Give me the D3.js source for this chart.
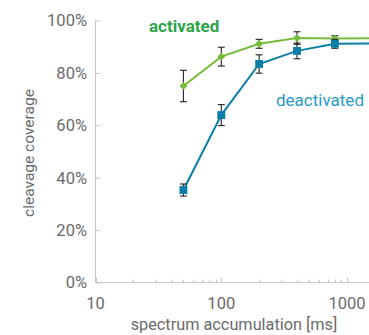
<!DOCTYPE html>
<html>
<head>
<meta charset="utf-8">
<script src="https://cdn.jsdelivr.net/npm/d3@7"></script>
<style>
body { margin: 0; background: #fff; }
text { font-family: Roboto, "Liberation Sans", sans-serif; }
</style>
</head>
<body>
<div id="chart"></div>
<script>
// data
var times = [50, 100, 200, 400, 800, 1600];
var activated = [0.75, 0.862, 0.911, 0.933, 0.931, 0.932];
var activatedErr = [0.06, 0.036, 0.017, 0.024, 0.011, 0];
var deactivated = [0.353, 0.639, 0.834, 0.884, 0.911, 0.912];
var deactivatedErr = [0.023, 0.04, 0.035, 0.03, 0.017, 0];
var shownPoints = 5;
var yTicks = [0, 0.2, 0.4, 0.6, 0.8, 1];
var xTicks = [10, 100, 1000];

var svgWidth = 369;
var svgHeight = 335;

var svg = d3.select("#chart")
    .append("svg")
    .attr("width", svgWidth)
    .attr("height", svgHeight);

var xScale = d3.scaleLog()
    .domain([10, 1500])
    .range([95.5, 369.2]);

var yScale = d3.scaleLinear()
    .domain([0, 1])
    .range([282.5, 20.5]);

var axisColor = "#c8c8c8";
var textColor = "#6b6b6b";

// y axis
var yAxis = svg.append("g")
    .attr("transform", "translate(95.5,0)")
    .call(d3.axisRight(yScale).tickValues(yTicks).tickSize(5).tickFormat(""));
yAxis.select(".domain").attr("stroke", axisColor).attr("d", "M0," + yScale(1) + "V" + yScale(0));
yAxis.selectAll(".tick line").attr("stroke", axisColor);

svg.append("g").selectAll("text")
    .data(yTicks)
    .enter()
    .append("text")
    .attr("x", 87)
    .attr("y", d => yScale(d))
    .attr("dy", "0.36em")
    .attr("text-anchor", "end")
    .attr("font-size", "16.5px")
    .attr("fill", textColor)
    .text(d3.format(".0%"));

// x axis with minor ticks
var minorTicks = xScale.ticks().filter(d => xTicks.indexOf(d) < 0);
var xAxisG = svg.append("g")
    .attr("transform", "translate(0,282.5)");
xAxisG.append("line")
    .attr("x1", 95.5).attr("x2", 369)
    .attr("stroke", axisColor);
xAxisG.selectAll(".minor")
    .data(minorTicks)
    .enter()
    .append("line")
    .attr("x1", d => Math.round(xScale(d)) + 0.5)
    .attr("x2", d => Math.round(xScale(d)) + 0.5)
    .attr("y1", 0).attr("y2", -3)
    .attr("stroke", axisColor);
xAxisG.selectAll(".major")
    .data(xTicks)
    .enter()
    .append("line")
    .attr("x1", d => Math.round(xScale(d)) + 0.5)
    .attr("x2", d => Math.round(xScale(d)) + 0.5)
    .attr("y1", 0).attr("y2", -5)
    .attr("stroke", axisColor);
xAxisG.selectAll("text")
    .data(xTicks)
    .enter()
    .append("text")
    .attr("x", d => xScale(d))
    .attr("y", 26)
    .attr("text-anchor", "middle")
    .attr("font-size", "16.5px")
    .attr("fill", textColor)
    .text(d => d);

// axis titles
svg.append("text")
    .attr("transform", "translate(34,153) rotate(-90)")
    .attr("text-anchor", "middle")
    .attr("font-size", "15.5px")
    .attr("fill", textColor)
    .text("cleavage coverage");

svg.append("text")
    .attr("x", 234)
    .attr("y", 330)
    .attr("text-anchor", "middle")
    .attr("font-size", "16.3px")
    .attr("fill", textColor)
    .text("spectrum accumulation [ms]");

// plot area clip
svg.append("clipPath")
    .attr("id", "plotClip")
    .append("rect")
    .attr("x", 90).attr("y", 0)
    .attr("width", 279).attr("height", 290);

var plot = svg.append("g").attr("clip-path", "url(#plotClip)");

function drawSeries(values, errs, color, marker) {
    var pts = times.map((t, i) => ({t: t, v: values[i], e: errs[i]}));
    var line = d3.line()
        .x(d => xScale(d.t))
        .y(d => yScale(d.v));

    plot.append("path")
        .datum(pts)
        .attr("fill", "none")
        .attr("stroke", color)
        .attr("stroke-width", 2)
        .attr("d", line);

    var shown = pts.slice(0, shownPoints);
    var bars = plot.append("g").selectAll("g")
        .data(shown)
        .enter()
        .append("g")
        .attr("stroke", "#222")
        .attr("stroke-width", 1.1);
    bars.append("line")
        .attr("x1", d => xScale(d.t)).attr("x2", d => xScale(d.t))
        .attr("y1", d => yScale(d.v + d.e)).attr("y2", d => yScale(d.v - d.e));
    bars.append("line")
        .attr("x1", d => xScale(d.t) - 3.5).attr("x2", d => xScale(d.t) + 3.5)
        .attr("y1", d => yScale(d.v + d.e)).attr("y2", d => yScale(d.v + d.e));
    bars.append("line")
        .attr("x1", d => xScale(d.t) - 3.5).attr("x2", d => xScale(d.t) + 3.5)
        .attr("y1", d => yScale(d.v - d.e)).attr("y2", d => yScale(d.v - d.e));

    plot.append("g").selectAll("path")
        .data(shown)
        .enter()
        .append("path")
        .attr("transform", d => `translate(${xScale(d.t)},${yScale(d.v)})`)
        .attr("d", marker)
        .attr("fill", color);
}

drawSeries(activated, activatedErr, "#77bd3c", d3.symbol().type(d3.symbolDiamond2).size(40)());
drawSeries(deactivated, deactivatedErr, "#0b7ea6", d3.symbol().type(d3.symbolSquare).size(62)());

svg.append("text")
    .attr("x", 149)
    .attr("y", 32)
    .attr("font-size", "17px")
    .attr("font-weight", "bold")
    .attr("fill", "#2ea449")
    .text("activated");

svg.append("text")
    .attr("x", 276)
    .attr("y", 106)
    .attr("font-size", "17px")
    .attr("fill", "#2a9bc6")
    .text("deactivated");
</script>
</body>
</html>
